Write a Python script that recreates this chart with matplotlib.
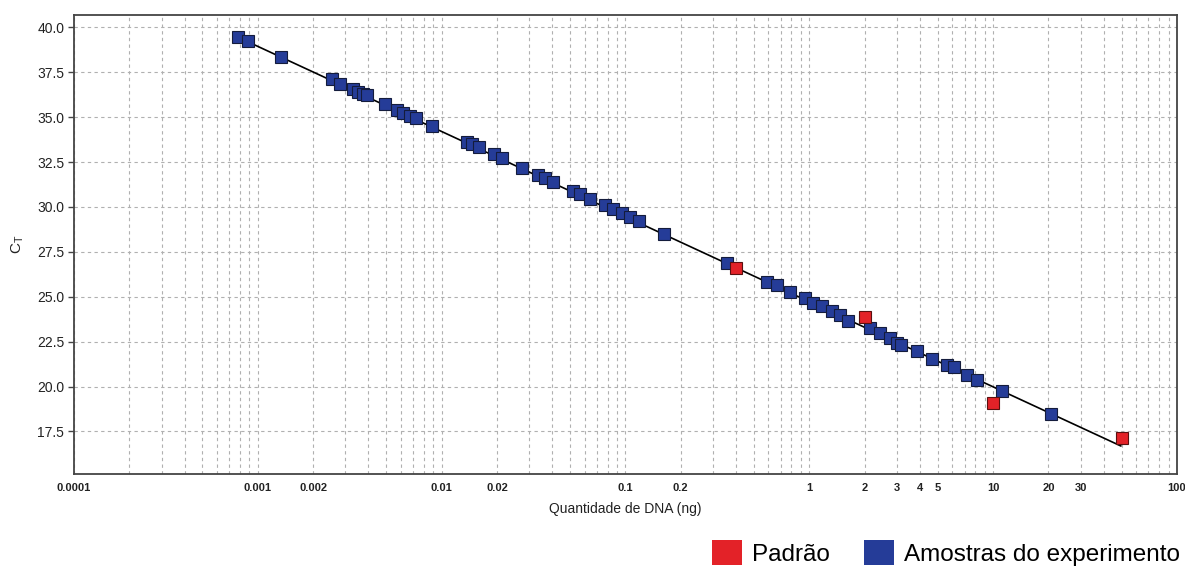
import matplotlib
matplotlib.use("Agg")
import matplotlib.pyplot as plt
from matplotlib.patches import Patch
from matplotlib.ticker import FixedLocator, LogLocator, NullFormatter

plt.rcParams['font.family'] = ['Liberation Sans', 'DejaVu Sans']

# Amostras do experimento (quantidade em ng, Ct)
amostras_qtd = [0.000778, 0.000888, 0.00134, 0.00254, 0.00280, 0.00331, 0.00352, 0.00375,
                0.00391, 0.00492, 0.00570, 0.00619, 0.00673, 0.00723, 0.00883, 0.0137,
                0.0146, 0.0160, 0.0193, 0.0212, 0.0275, 0.0336, 0.0365, 0.0405, 0.0521,
                0.0566, 0.0641, 0.0775, 0.0859, 0.0955, 0.106, 0.118, 0.162, 0.356,
                0.592, 0.666, 0.786, 0.948, 1.05, 1.17, 1.33, 1.47, 1.63, 2.14, 2.43,
                2.75, 2.99, 3.16, 3.85, 4.64, 5.60, 6.13, 7.25, 8.21, 11.2, 20.6]
amostras_ct = [39.48, 39.25, 38.36, 37.10, 36.86, 36.55, 36.41, 36.29,
               36.23, 35.71, 35.40, 35.24, 35.08, 34.95, 34.52, 33.63,
               33.50, 33.32, 32.95, 32.74, 32.18, 31.78, 31.59, 31.37, 30.89,
               30.70, 30.42, 30.11, 29.88, 29.64, 29.42, 29.23, 28.47, 26.89,
               25.84, 25.65, 25.25, 24.91, 24.67, 24.48, 24.20, 23.98, 23.66, 23.24, 22.96,
               22.68, 22.41, 22.31, 21.98, 21.53, 21.20, 21.10, 20.64, 20.36, 19.75, 18.47]

# Padrao (curva padrao)
padrao_qtd = [0.4, 2, 10, 50]
padrao_ct = [26.58, 23.85, 19.10, 17.13]

# Reta de regressao
reta_qtd = [0.00078, 49.5]
reta_ct = [39.45, 16.69]

xtick_vals = [0.0001, 0.001, 0.002, 0.01, 0.02, 0.1, 0.2, 1, 2, 3, 4, 5, 10, 20, 30, 100]
xtick_labels = ['0.0001', '0.001', '0.002', '0.01', '0.02', '0.1', '0.2', '1', '2', '3', '4', '5',
                '10', '20', '30', '100']
ytick_vals = [17.5, 20.0, 22.5, 25.0, 27.5, 30.0, 32.5, 35.0, 37.5, 40.0]

azul = '#253c98'
vermelho = '#e32228'

fig = plt.figure(figsize=(11.85, 5.70), dpi=100)
ax = fig.add_axes([0.0624, 0.1691, 0.9308, 0.8041])

ax.plot(reta_qtd, reta_ct, color='black', lw=1.2, zorder=2)
ax.plot(amostras_qtd, amostras_ct, 's', ms=8.8, color=azul, mec='#141c3c', mew=0.8, zorder=3)
ax.plot(padrao_qtd, padrao_ct, 's', ms=8, color=vermelho, mec='#5a1010', mew=0.8, zorder=4)

ax.set_xscale('log')
ax.set_xlim(1e-4, 100)
ax.set_ylim(15.15, 40.67)

ax.xaxis.set_major_locator(FixedLocator(xtick_vals))
ax.set_xticklabels(xtick_labels, fontsize=8, fontweight='bold', color='#222222')
ax.xaxis.set_minor_locator(LogLocator(base=10, subs=range(1, 10)))
ax.xaxis.set_minor_formatter(NullFormatter())
ax.set_yticks(ytick_vals)
ax.set_yticklabels([f'{v:.1f}' for v in ytick_vals], fontsize=10, color='#222222')

ax.tick_params(axis='x', which='both', length=0, pad=7)
ax.tick_params(axis='y', length=4, width=1, color='#444444', pad=3)

ax.grid(True, which='both', axis='x', ls=(0, (3, 3)), color='#b0b0b0', lw=0.8)
ax.grid(True, which='major', axis='y', ls=(0, (3, 3)), color='#b0b0b0', lw=0.8)
ax.set_axisbelow(True)

for s in ax.spines.values():
    s.set_color('#444444')
    s.set_linewidth(1.3)

ax.set_xlabel('Quantidade de DNA (ng)', fontsize=10, labelpad=6, color='#222222')
ax.set_ylabel(r'C$_\mathregular{T}$', fontsize=11, labelpad=8, color='#222222')

handles = [Patch(facecolor=vermelho, edgecolor='none', label='Padrão'),
           Patch(facecolor=azul, edgecolor='none', label='Amostras do experimento')]
fig.legend(handles=handles, loc='center right', bbox_to_anchor=(0.9958, 0.03), ncol=2,
           frameon=False, fontsize=17.5, handlelength=1.23, handleheight=1.23,
           handletextpad=0.41, columnspacing=1.4, borderaxespad=0, borderpad=0)

fig.savefig('out.png', dpi=100)
